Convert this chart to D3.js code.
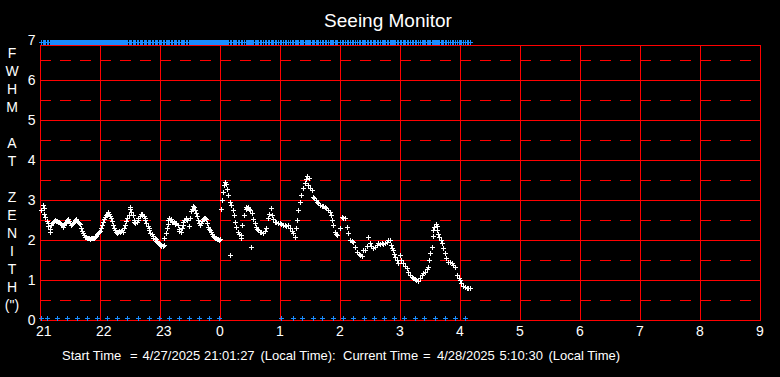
<!DOCTYPE html>
<html>
<head>
<meta charset="utf-8">
<script src="https://d3js.org/d3.v7.min.js"></script>
<style>
    body { margin: 0; background: #000; }
    svg { display: block; font-family: "Liberation Sans", Arial, sans-serif; }
    .grid { stroke: #ff0000; stroke-width: 1; fill: none; shape-rendering: crispEdges; }
    .grid--dash { stroke-dasharray: 11, 9; }
    .mark { fill: none; shape-rendering: crispEdges; }
    .label { fill: #fff; font-size: 14px; }
</style>
</head>
<body>
<div class="content"></div>
<script>
// подписи осей
var hourTicks = [21, 22, 23, 24, 25, 26, 27, 28, 29, 30, 31, 32, 33];
var hourLabels = ['21', '22', '23', '0', '1', '2', '3', '4', '5', '6', '7', '8', '9'];
var fwhmTicks = [0, 1, 2, 3, 4, 5, 6, 7];
var fwhmHalf = [0.5, 1.5, 2.5, 3.5, 4.5, 5.5, 6.5];
var axisLetters = ['F', 'W', 'H', 'M', '', 'A', 'T', '', 'Z', 'E', 'N', 'I', 'T', 'H', '(")'];

// измерения: [минуты после 21:00, FWHM в секундах дуги]
var seeing = [
    [1.5,2.75],[2.5,2.87],[3.5,2.8],[4.5,2.65],[5.5,2.58],[6.5,2.48],[7.5,2.42],[8.5,2.35],[9.5,2.28],[10,2.2],
    [11,2.38],[12,2.42],[13,2.44],[14,2.47],[15,2.5],[16,2.48],[17,2.47],[18,2.45],[19,2.44],[20,2.42],
    [21,2.4],[22,2.37],[23,2.32],[24,2.38],[25,2.43],[26,2.46],[27,2.5],[28,2.52],[29,2.48],[30,2.42],
    [31,2.38],[32,2.4],[33,2.43],[34,2.46],[35,2.5],[36,2.52],[37,2.48],[38,2.45],[39,2.43],[40,2.4],
    [41,2.3],[42,2.22],[43,2.17],[44,2.12],[45,2.08],[46,2.07],[47,2.06],[48,2.05],[49,2.04],[50,2.03],
    [51,2.04],[52,2.05],[53,2.04],[54,2.06],[55,2.08],[56,2.11],[57,2.14],[58,2.18],[59,2.2],[60,2.22],
    [61,2.3],[62,2.38],[63,2.45],[64,2.52],[65,2.58],[66,2.62],[67,2.66],[68,2.7],[69,2.66],[70,2.6],
    [71,2.54],[72,2.48],[73,2.38],[74,2.3],[75,2.24],[76,2.2],[77,2.18],[78,2.2],[79,2.22],[80,2.2],
    [81,2.23],[82,2.26],[83,2.2],[84,2.3],[85,2.38],[86,2.48],[87,2.55],[88.5,2.62],[89.5,2.78],[90.5,2.82],
    [91.5,2.7],[92.5,2.62],[93.5,2.5],[94.5,2.45],[95.5,2.42],[96.5,2.45],[97.5,2.5],[98.5,2.55],[99.5,2.6],[100.5,2.65],
    [101.5,2.66],[102.5,2.63],[103.5,2.6],[104.5,2.55],[105.5,2.5],[106.5,2.43],[107.5,2.36],[108.5,2.3],[109.5,2.24],[110.5,2.18],
    [111.5,2.14],[112.5,2.1],[113.5,2.06],[114.5,2.04],[115.5,2.02],[116.5,1.98],[117.5,1.95],[118.5,1.92],[119.5,1.9],[120.5,1.88],
    [121.5,1.86],[122.5,1.84],[123.5,1.88],[124.5,2.04],[125.5,2.17],[126.5,2.3],[127.5,2.4],[128.5,2.5],[129.5,2.56],[130.5,2.52],
    [131.5,2.48],[132.5,2.45],[133.5,2.46],[134.5,2.42],[135.5,2.4],[136.5,2.42],[137.5,2.38],[138.5,2.28],[139.5,2.22],[140.5,2.2],
    [141.5,2.3],[142.5,2.38],[143.5,2.44],[144.5,2.5],[145.5,2.52],[146.5,2.55],[147.5,2.5],[148.5,2.36],[149.5,2.55],[151,2.72],
    [152,2.78],[153,2.85],[154,2.82],[155,2.75],[156,2.68],[157,2.6],[158,2.5],[159,2.42],[160,2.37],[161,2.42],
    [162,2.48],[163,2.52],[164,2.55],[165,2.55],[166,2.52],[167,2.42],[168,2.32],[169,2.28],[170,2.25],[171,2.2],
    [172,2.15],[173,2.1],[174,2.08],[175,2.06],[176,2.05],[177,2.03],[178,2.02],[179,2.0],[179.7,2.02],[181.3,2.77],
    [182,3.0],[183,3.2],[184,3.38],[184.7,3.46],[185.5,3.4],[187.3,3.27],[188,3.12],[189.7,2.96],[189.7,1.62],[191.3,2.87],
    [193,2.75],[194,2.62],[194.5,2.46],[196.3,2.33],[198,2.21],[199.5,2.15],[200.7,2.12],[201.3,2.04],[202,2.37],[204,2.62],
    [205.5,2.78],[206.3,2.83],[207,2.8],[208,2.82],[209,2.78],[209.7,2.75],[211.3,1.82],[212,2.67],[213,2.52],[214.7,2.42],
    [216,2.33],[217.3,2.27],[218.5,2.24],[219.7,2.21],[221,2.2],[223,2.17],[224.5,2.22],[226.3,2.29],[228,2.54],[229.5,2.65],
    [231.3,2.79],[232,2.62],[233.5,2.52],[234.7,2.46],[236,2.44],[238,2.42],[239.5,2.43],[241,2.4],[243,2.37],[244.5,2.38],
    [246,2.36],[248,2.37],[249.7,2.29],[251.5,2.22],[253,2.17],[254.7,2.08],[256.3,2.29],[257.3,2.5],[258,2.75],[259.7,2.96],
    [261.3,3.12],[263,3.3],[264.7,3.42],[266,3.52],[267.3,3.6],[268.5,3.55],[268.3,3.37],[270,3.3],[271.7,3.25],[273.3,3.08],
    [274.5,3.05],[275.5,3.0],[276.7,2.96],[278,2.92],[280,2.87],[281.5,2.86],[283,2.85],[285,2.83],[286.5,2.8],[288.3,2.75],
    [289.5,2.7],[290.7,2.62],[291.7,2.5],[293.3,2.37],[295,2.21],[296,2.15],[297.3,2.12],[300,2.29],[301.7,2.58],[303,2.56],
    [305,2.54],[306.7,2.33],[308.3,2.17],[310,2.0],[311.5,1.98],[313.3,1.96],[315,1.83],[316.7,1.71],[318.5,1.65],[320,1.62],
    [321.5,1.6],[323.3,1.75],[325,1.75],[326.5,1.85],[328.3,2.08],[330,1.92],[331.5,1.85],[333.3,1.79],[335,1.82],[336.7,1.87],
    [338.3,1.92],[340,1.9],[341.7,1.92],[343.3,1.9],[345,1.93],[346.7,1.96],[348.3,2.0],[350,2.0],[350.7,1.87],[351.7,1.8],
    [352.7,1.75],[354,1.65],[355,1.58],[356.7,1.5],[358.3,1.42],[360,1.62],[361.5,1.5],[363.3,1.42],[365,1.35],[366.7,1.29],
    [368.3,1.2],[370,1.12],[371.5,1.08],[373.3,1.04],[375,1.02],[376.5,1.0],[378.3,0.98],[380,1.05],[381.7,1.12],[383.3,1.17],
    [385,1.21],[386.7,1.27],[388.3,1.33],[389,1.5],[390,1.67],[391.7,1.83],[392.7,2.1],[393.3,2.25],[394.5,2.33],[395.5,2.4],
    [396.5,2.35],[397.3,2.25],[398.3,2.15],[399.3,2.08],[400.5,2.0],[401.7,1.92],[403.3,1.8],[405,1.67],[406.5,1.55],[408.3,1.46],
    [410,1.44],[411.7,1.42],[413.3,1.38],[415,1.33],[416.7,1.12],[418.5,1.05],[420,1.0],[421.5,0.92],[423.3,0.85],[425,0.82],
    [426.7,0.79],[428.5,0.79],[430,0.79]
];

// синие отметки внизу графика, минуты после 21:00
var statusTimes = [1, 6.7, 16.7, 26.7, 37.3, 47.3, 57.3, 67.3, 77.3, 87.3, 98, 108.7, 118.7, 128.7, 138.7,
    148.7, 159.3, 169.3, 179.3, 241, 252.6, 262.4, 272.5, 282.3, 292.5, 303, 313.4, 323.6, 333.7, 343.9,
    354, 364.2, 374.6, 384.4, 394.6, 404.7, 415.2, 425.3];

// размеры картинки
var w = 780,
    h = 377;

var yTop = 6.875,      // верхняя граница поля графика
    topLevel = 6.94,   // уровень синей полосы сверху
    statusLevel = 0.06; // уровень синих отметок снизу

var svg = d3.select('.content').append('svg')
    .attr('width', w)
    .attr('height', h);

svg.append('rect').attr('width', w).attr('height', h).attr('fill', '#000');

var x = d3.scaleLinear().domain([21, 33]).range([40, 760]);
var y = d3.scaleLinear().domain([0, 7]).range([320, 40]);

function hourOf(m) { return 21 + m / 60; }

// крестик заданного размера
function plus(r) { return 'M' + (-r) + ',0H' + r + 'M0,' + (-r) + 'V' + r; }

// позиция крестика, прижатая к пикселю, чтобы он был чётким
function at(px, py) { return 'translate(' + (Math.round(px) + 0.5) + ',' + (Math.round(py) + 0.5) + ')'; }

// сетка
var grid = svg.append('g');
grid.selectAll('line.h')
    .data(fwhmTicks.filter(function(d) { return d < yTop; }).concat([yTop]))
    .enter().append('line')
    .attr('class', 'grid')
    .attr('x1', x(21)).attr('x2', x(33) + 1)
    .attr('y1', function(d) { return y(d) + 0.5; })
    .attr('y2', function(d) { return y(d) + 0.5; });

grid.selectAll('line.d')
    .data(fwhmHalf)
    .enter().append('line')
    .attr('class', 'grid grid--dash')
    .attr('x1', x(21)).attr('x2', x(33))
    .attr('y1', function(d) { return y(d) + 0.5; })
    .attr('y2', function(d) { return y(d) + 0.5; });

grid.selectAll('line.v')
    .data(hourTicks)
    .enter().append('line')
    .attr('class', 'grid')
    .attr('x1', function(d) { return x(d) + 0.5; })
    .attr('x2', function(d) { return x(d) + 0.5; })
    .attr('y1', y(0) + 1).attr('y2', y(yTop));

// белые точки измерений
svg.append('g').selectAll('path')
    .data(seeing)
    .enter().append('path')
    .attr('class', 'mark')
    .attr('d', plus(2.5))
    .attr('transform', function(d) { return at(x(hourOf(d[0])), y(d[1])); })
    .attr('stroke', '#fff')
    .attr('stroke-width', 1);

// синяя полоса сверху
svg.append('g').selectAll('path')
    .data(seeing.map(function(d) { return d[0]; }).concat(statusTimes))
    .enter().append('path')
    .attr('class', 'mark')
    .attr('d', plus(2.5))
    .attr('transform', function(d) { return at(x(hourOf(d)), y(topLevel)); })
    .attr('stroke', '#1a8cff')
    .attr('stroke-width', 1);

// синие отметки снизу
svg.append('g').selectAll('path')
    .data(statusTimes)
    .enter().append('path')
    .attr('class', 'mark')
    .attr('d', plus(2.5))
    .attr('transform', function(d) { return at(x(hourOf(d)), y(statusLevel)); })
    .attr('stroke', '#1a8cff')
    .attr('stroke-width', 1);

// подписи по осям
svg.append('g').selectAll('text')
    .data(fwhmTicks)
    .enter().append('text')
    .attr('class', 'label')
    .attr('x', 35.5)
    .attr('y', function(d) { return y(d); })
    .attr('dy', '0.36em')
    .attr('text-anchor', 'end')
    .text(function(d) { return d; });

svg.append('g').selectAll('text')
    .data(hourTicks)
    .enter().append('text')
    .attr('class', 'label')
    .attr('x', function(d) { return x(d) - 4; })
    .attr('y', 336)
    .text(function(d, i) { return hourLabels[i]; });

svg.append('g').selectAll('text')
    .data(axisLetters)
    .enter().append('text')
    .attr('class', 'label')
    .attr('x', 12)
    .attr('y', function(d, i) { return 53 + i * 18; })
    .attr('dy', '0.36em')
    .attr('text-anchor', 'middle')
    .text(function(d) { return d; });

// заголовок
svg.append('text')
    .attr('x', 388)
    .attr('y', 27)
    .attr('text-anchor', 'middle')
    .attr('fill', '#fff')
    .style('font-size', '19px')
    .text('Seeing Monitor');

// строка с временем
var footer = [
    ['Start Time', 62], ['=', 130], ['4/27/2025', 142.5], ['21:01:27', 204], ['(Local Time):', 260.5],
    ['Current Time', 343], ['=', 423], ['4/28/2025', 437], ['5:10:30', 499.5], ['(Local Time)', 548.5]
];
svg.append('text')
    .attr('y', 360)
    .attr('fill', '#fff')
    .style('font-size', '13px')
    .selectAll('tspan')
    .data(footer)
    .enter().append('tspan')
    .attr('x', function(d) { return d[1]; })
    .text(function(d) { return d[0]; });
</script>
</body>
</html>
